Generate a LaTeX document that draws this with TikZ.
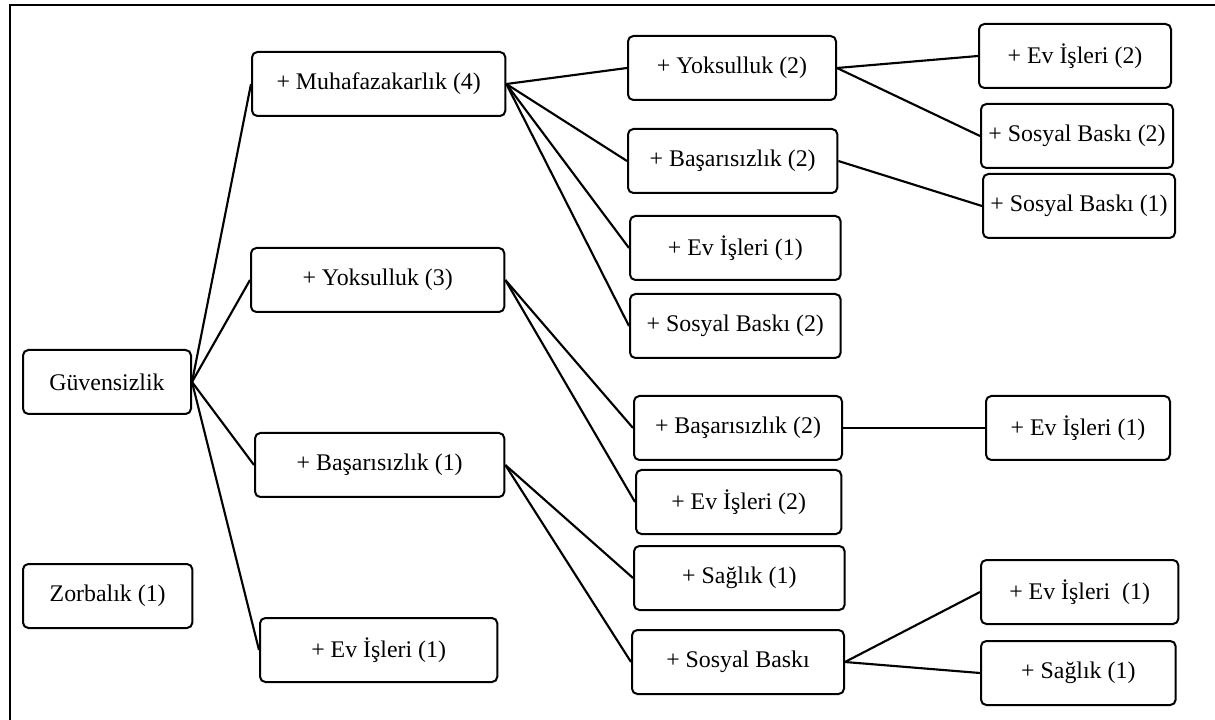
\documentclass[tikz,border=0pt]{standalone}
\usepackage{fontspec}
\setmainfont{Liberation Serif}
\usepackage{tikz}
\usetikzlibrary{positioning}

\begin{document}
\begin{tikzpicture}[x=0.75pt,y=0.75pt,yscale=-1,xscale=1,
  kutu/.style={draw, rounded corners=4pt, line width=1.5pt, minimum height=48pt,
    inner sep=0.75pt, align=center, anchor=north west,
    font=\fontsize{17.9pt}{20pt}\selectfont},
  bag/.style={line width=1.6pt}]
\useasboundingbox (0,0) rectangle (1215,720);

%Frame
\draw[line width=1.8pt] (10,720) -- (10,5) -- (1215,5);

% Text Node
\node[kutu, minimum width=126pt] (guven) at (22,349) {Güvensizlik};
% Text Node
\node[kutu, minimum width=127pt] (zorba) at (22,563) {Zorbalık (1)};
% Text Node
\node[kutu, minimum width=190pt] (muhaf) at (251,51) {+ Muhafazakarlık (4)};
% Text Node
\node[kutu, minimum width=190pt] (yoks3) at (250,247) {+ Yoksulluk (3)};
% Text Node
\node[kutu, minimum width=187pt] (basar1) at (254,432) {+ Başarısızlık (1)};
% Text Node
\node[kutu, minimum width=178pt] (ev1a) at (259,617) {+ Ev İşleri (1)};
% Text Node
\node[kutu, minimum width=156pt] (yoks2) at (627,35) {+ Yoksulluk (2)};
% Text Node
\node[kutu, minimum width=157pt] (basar2a) at (627,128) {+ Başarısızlık (2)};
% Text Node
\node[kutu, minimum width=158pt] (ev1b) at (629,215) {+ Ev İşleri (1)};
% Text Node
\node[kutu, minimum width=158pt] (sosyal2a) at (629,293) {+ Sosyal Baskı (2)};
% Text Node
\node[kutu, minimum width=156pt] (basar2b) at (633,395) {+ Başarısızlık (2)};
% Text Node
\node[kutu, minimum width=154pt] (ev2b) at (635,469) {+ Ev İşleri (2)};
% Text Node
\node[kutu, minimum width=158pt] (saglik1a) at (633,545) {+ Sağlık (1)};
% Text Node
\node[kutu, minimum width=159pt] (sosyal) at (631,629) {+ Sosyal Baskı};
% Text Node
\node[kutu, minimum width=144pt] (ev2a) at (978,23) {+ Ev İşleri (2)};
% Text Node
\node[kutu, minimum width=144pt] (sosyal2b) at (980,103) {+ Sosyal Baskı (2)};
% Text Node
\node[kutu, minimum width=144pt] (sosyal1) at (982,173) {+ Sosyal Baskı (1)};
% Text Node
\node[kutu, minimum width=138pt] (ev1c) at (985,395) {+ Ev İşleri (1)};
% Text Node
\node[kutu, minimum width=148pt] (ev1d) at (980,559) {+ Ev İşleri\ \ (1)};
% Text Node
\node[kutu, minimum width=146pt] (saglik1b) at (980,640) {+ Sağlık (1)};

%Straight Lines
\draw[bag] (guven.east) -- (muhaf.west);
\draw[bag] (guven.east) -- (yoks3.west);
\draw[bag] (guven.east) -- (basar1.west);
\draw[bag] (guven.east) -- (ev1a.west);
%Straight Lines
\draw[bag] (muhaf.east) -- (yoks2.west);
\draw[bag] (muhaf.east) -- (basar2a.west);
\draw[bag] (muhaf.east) -- (ev1b.west);
\draw[bag] (muhaf.east) -- (sosyal2a.west);
%Straight Lines
\draw[bag] (yoks2.east) -- (ev2a.west);
\draw[bag] (yoks2.east) -- (sosyal2b.west);
\draw[bag] (basar2a.east) -- (sosyal1.west);
%Straight Lines
\draw[bag] (yoks3.east) -- (basar2b.west);
\draw[bag] (yoks3.east) -- (ev2b.west);
\draw[bag] (basar2b.east) -- (ev1c.west);
%Straight Lines
\draw[bag] (basar1.east) -- (saglik1a.west);
\draw[bag] (basar1.east) -- (sosyal.west);
\draw[bag] (sosyal.east) -- (ev1d.west);
\draw[bag] (sosyal.east) -- (saglik1b.west);

\end{tikzpicture}
\end{document}
